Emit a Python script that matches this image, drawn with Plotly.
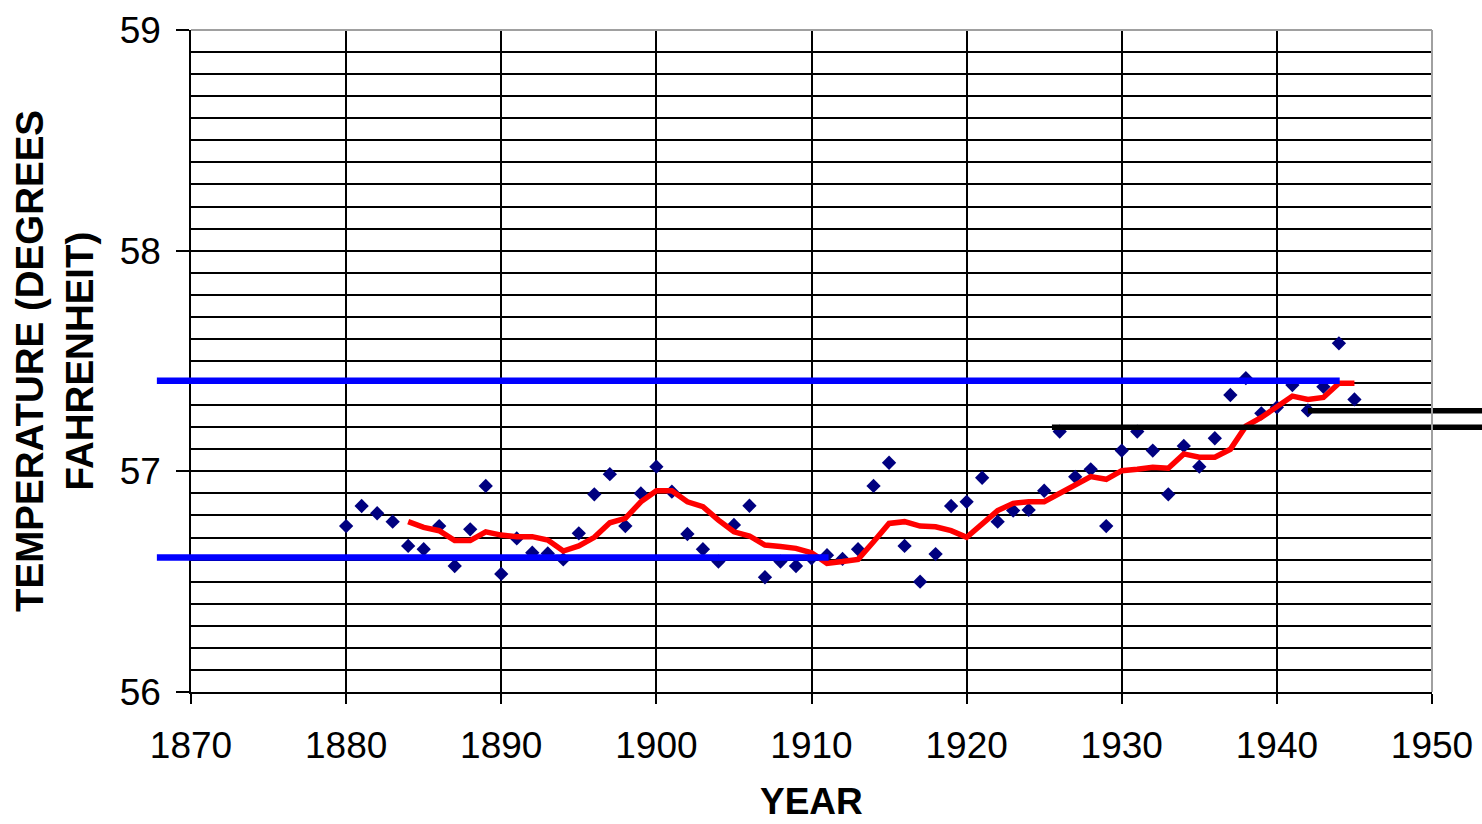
import plotly.graph_objects as go

# =====================================================
# DATA
# =====================================================

years = list(range(1880, 1946))

annual_temp = [
    56.752, 56.843, 56.810, 56.772, 56.662, 56.647, 56.752, 56.571, 56.737, 56.934,
    56.535, 56.696, 56.631, 56.628, 56.601, 56.719, 56.896, 56.987, 56.752, 56.900,
    57.021, 56.908, 56.716, 56.647, 56.591, 56.757, 56.844, 56.520, 56.591, 56.571,
    56.606, 56.620, 56.603, 56.647, 56.934, 57.039, 56.662, 56.500, 56.625, 56.843,
    56.862, 56.971, 56.772, 56.822, 56.825, 56.912, 57.180, 56.975, 57.009, 56.752,
    57.094, 57.180, 57.094, 56.896, 57.115, 57.021, 57.150, 57.346, 57.422, 57.263,
    57.290, 57.391, 57.276, 57.383, 57.580, 57.326,
]

avg_years = list(range(1884, 1946))

moving_avg = [
    56.772, 56.746, 56.731, 56.686, 56.686, 56.726,
    56.711, 56.704, 56.704, 56.689, 56.639, 56.662, 56.701, 56.767, 56.787, 56.862,
    56.912, 56.912, 56.862, 56.840, 56.779, 56.726, 56.707, 56.666, 56.659, 56.651,
    56.631, 56.583, 56.591, 56.601, 56.681, 56.764, 56.772, 56.752, 56.749, 56.731,
    56.701, 56.761, 56.822, 56.855, 56.862, 56.862, 56.900, 56.945, 56.976, 56.964,
    57.003, 57.009, 57.018, 57.014, 57.079, 57.064, 57.064, 57.100, 57.205, 57.244,
    57.290, 57.341, 57.326, 57.335, 57.399, 57.399,
]

# hand-drawn reference levels
low_band_x = [1867.8, 1911.1]
low_band_y = [56.61, 56.61]
high_band_x = [1867.8, 1944.05]
high_band_y = [57.41, 57.41]
mark_1942_x = [1942.0, 1956.0]
mark_1942_y = [57.275, 57.275]
mark_1925_x = [1925.5, 1956.0]
mark_1925_y = [57.2, 57.2]

x_ticks = [1870, 1880, 1890, 1900, 1910, 1920, 1930, 1940, 1950]
y_ticks = [56, 57, 58, 59]

# =====================================================
# LAYOUT
# =====================================================

W, H = 1482, 824
plot_left, plot_right = 191, 1432
plot_top, plot_bottom = 30, 692
px_per_year = (plot_right - plot_left) / (x_ticks[-1] - x_ticks[0])
# second (hidden) x axis spans the whole page so the drawn lines can run past the frame
x2_range = [x_ticks[0] - plot_left / px_per_year, x_ticks[0] + (W - plot_left) / px_per_year]

FONT = "Liberation Sans, Arial, sans-serif"
GRID = "#000000"

fig = go.Figure()

fig.add_trace(go.Scatter(
    x=years, y=annual_temp, mode="markers",
    marker=dict(symbol="diamond", size=11, color="#000080"),
    xaxis="x", yaxis="y",
))

fig.add_trace(go.Scatter(
    x=avg_years, y=moving_avg, mode="lines",
    line=dict(color="#ff0000", width=5.5),
    xaxis="x", yaxis="y",
))

for lx, ly, col, w in [
    (low_band_x, low_band_y, "#0000ff", 6.5),
    (high_band_x, high_band_y, "#0000ff", 6.5),
    (mark_1925_x, mark_1925_y, "#000000", 5.5),
    (mark_1942_x, mark_1942_y, "#000000", 5.5),
]:
    fig.add_trace(go.Scatter(
        x=lx, y=ly, mode="lines",
        line=dict(color=col, width=w),
        xaxis="x2", yaxis="y2",
    ))

fig.update_layout(
    width=W, height=H,
    margin=dict(l=0, r=0, t=plot_top, b=H - plot_bottom),
    paper_bgcolor="white", plot_bgcolor="rgba(0,0,0,0)",
    showlegend=False,
    font=dict(family=FONT, size=37, color="black"),
    xaxis=dict(
        domain=[plot_left / W, plot_right / W],
        range=[x_ticks[0], x_ticks[-1]],
        tickvals=x_ticks,
        showgrid=True, gridcolor=GRID, gridwidth=1.5,
        showline=True, linecolor="black", linewidth=1.5,
        ticks="outside", ticklen=10, tickwidth=1.5, tickcolor="black",
        ticklabelstandoff=10,
        zeroline=False,
        automargin=False,
        anchor="y",
    ),
    yaxis=dict(
        domain=[0, 1],
        range=[y_ticks[0], y_ticks[-1]],
        tickvals=y_ticks,
        showgrid=True, gridcolor=GRID, gridwidth=1.5,
        minor=dict(tick0=56, dtick=0.1, showgrid=True, gridcolor=GRID, gridwidth=1.5),
        showline=True, linecolor="black", linewidth=1.5,
        ticks="outside", ticklen=13, tickwidth=1.5, tickcolor="black",
        ticklabelstandoff=8,
        zeroline=False,
        automargin=False,
        anchor="x",
        title=dict(text="<b>TEMPERATURE (DEGREES<br>FAHRENHEIT)</b>",
                   standoff=14, font=dict(size=38.5)),
    ),
    xaxis2=dict(domain=[0, 1], range=x2_range, visible=False, anchor="y2",
                automargin=False),
    yaxis2=dict(domain=[0, 1], range=[y_ticks[0], y_ticks[-1]], visible=False, anchor="x2",
                automargin=False),
    shapes=[
        dict(type="line", xref="x domain", yref="y domain", x0=0, x1=1, y0=1, y1=1,
             line=dict(color="#a0a0a0", width=2), layer="above"),
        dict(type="line", xref="x domain", yref="y domain", x0=1, x1=1, y0=0, y1=1,
             line=dict(color="#a0a0a0", width=2), layer="above"),
    ],
    # x-axis title placed as an annotation so it can sit right at the page bottom
    annotations=[
        dict(text="<b>YEAR</b>", xref="x domain", x=0.5, yref="paper",
             y=-(801 - plot_bottom) / (plot_bottom - plot_top),
             xanchor="center", yanchor="middle", showarrow=False,
             font=dict(size=37)),
    ],
)

# drop the page's default body margin so the figure fills the window exactly
fig.write_html("out.html", config={"displayModeBar": False},
               post_script="document.body.style.margin = '0';")
